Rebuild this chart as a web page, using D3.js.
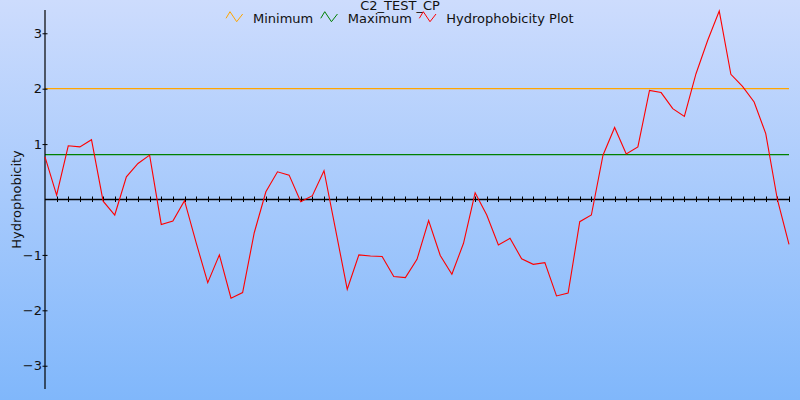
<!DOCTYPE html>
<html><head><meta charset="utf-8">
<script src="https://cdn.jsdelivr.net/npm/d3@7"></script>
<style>
html,body{margin:0;padding:0;}
svg{display:block;font-family:"DejaVu Sans",Verdana,sans-serif;}
</style></head>
<body>
<svg id="chart" width="800" height="400"></svg>
<script>
// ---- data ----
const title = "C2_TEST_CP";
const yLabel = "Hydrophobicity";
const seriesNames = ["Minimum", "Maximum", "Hydrophobicity Plot"];
const seriesColors = ["#ffa500", "#008000", "#ff0000"];
const minimumValue = 2.0;
const maximumValue = 0.81;
const hydrophobicity = [
  0.77, 0.08, 0.97, 0.95, 1.08, -0.03, -0.28, 0.41, 0.65, 0.80,
  -0.45, -0.39, -0.02, -0.78, -1.50, -1.00, -1.78, -1.68, -0.60, 0.14,
  0.50, 0.44, -0.04, 0.07, 0.52, -0.55, -1.62, -1.00, -1.02, -1.03,
  -1.39, -1.41, -1.08, -0.38, -1.01, -1.35, -0.79, 0.12, -0.28, -0.82,
  -0.70, -1.07, -1.17, -1.14, -1.74, -1.69, -0.40, -0.28, 0.80, 1.30,
  0.82, 0.95, 1.97, 1.93, 1.64, 1.50, 2.27, 2.87, 3.40, 2.26,
  2.04, 1.76, 1.19, 0.00, -0.81
];
const yTickValues = [-3, -2, -1, 1, 2, 3];

// ---- layout ----
const W = 800, H = 400;
const svg = d3.select("#chart");

const defs = svg.append("defs");
const grad = defs.append("linearGradient").attr("id", "bg").attr("x1", 0).attr("y1", 0).attr("x2", 0).attr("y2", 1);
grad.append("stop").attr("offset", "0%").attr("stop-color", "#cddcfd");
grad.append("stop").attr("offset", "100%").attr("stop-color", "#80b7fb");
svg.append("rect").attr("width", W).attr("height", H).attr("fill", "url(#bg)");

const yMax = d3.max(hydrophobicity, d => Math.abs(d)) + 0.02;
const x = d3.scaleLinear().domain([0, hydrophobicity.length - 1]).range([45, 789]);
const y = d3.scaleLinear().domain([-yMax, yMax]).range([389, 10]);

// threshold lines
svg.append("line")
  .attr("x1", x(0)).attr("x2", x(hydrophobicity.length - 1))
  .attr("y1", y(minimumValue)).attr("y2", y(minimumValue))
  .attr("stroke", seriesColors[0]).attr("stroke-width", 1.2);
svg.append("line")
  .attr("x1", x(0)).attr("x2", x(hydrophobicity.length - 1))
  .attr("y1", y(maximumValue)).attr("y2", y(maximumValue))
  .attr("stroke", seriesColors[1]).attr("stroke-width", 1.2);

// y axis
const yAxis = d3.axisLeft(y).tickValues(yTickValues).tickFormat(d3.format("d")).tickSize(0).tickPadding(3);
const gy = svg.append("g").attr("transform", `translate(${x(0)},0)`).call(yAxis);
gy.select(".domain").remove();
gy.selectAll(".tick text").attr("font-size", 13).attr("fill", "#111").attr("font-family", "DejaVu Sans, Verdana, sans-serif");
gy.selectAll(".tick").append("line").attr("x1", -2.5).attr("x2", 2.5).attr("stroke", "#000");
gy.append("line").attr("y1", 10).attr("y2", 389).attr("stroke", "#000").attr("stroke-width", 1.2);

// x axis at zero
const gx = svg.append("g").attr("transform", `translate(0,${y(0)})`);
gx.append("line").attr("x1", x(0)).attr("x2", x(hydrophobicity.length - 1)).attr("stroke", "#000").attr("stroke-width", 1.6);
gx.selectAll("line.tk").data(d3.range(1, hydrophobicity.length)).join("line")
  .attr("class", "tk")
  .attr("x1", d => Math.round(x(d)) + 0.5).attr("x2", d => Math.round(x(d)) + 0.5)
  .attr("y1", -3).attr("y2", 2.5).attr("stroke", "#000").attr("stroke-width", 1);

// main series
const line = d3.line().x((d, i) => x(i)).y(d => y(d));
svg.append("path").datum(hydrophobicity)
  .attr("d", line).attr("fill", "none")
  .attr("stroke", seriesColors[2]).attr("stroke-width", 1.1);

// y label
svg.append("text").attr("transform", `translate(21,${y(0)}) rotate(-90)`)
  .attr("text-anchor", "middle").attr("font-size", 13).attr("fill", "#111").text(yLabel);

// title
svg.append("text").attr("x", 400).attr("y", 10).attr("text-anchor", "middle")
  .attr("font-size", 13).attr("fill", "#111").text(title);

// legend
let lx = 226;
const iconPts = [[0, 6.6], [4, 0], [10.7, 10], [16.7, 2.3]];
seriesNames.forEach((name, i) => {
  const g = svg.append("g").attr("transform", `translate(${lx},11.7)`);
  g.append("path").attr("d", d3.line()(iconPts)).attr("fill", "none")
    .attr("stroke", seriesColors[i]).attr("stroke-width", 1);
  const t = svg.append("text").attr("x", lx + 27).attr("y", 23)
    .attr("font-size", 13).attr("fill", "#111").text(name);
  lx = lx + 27 + t.node().getComputedTextLength() + 7.5;
});
</script>
</body></html>
